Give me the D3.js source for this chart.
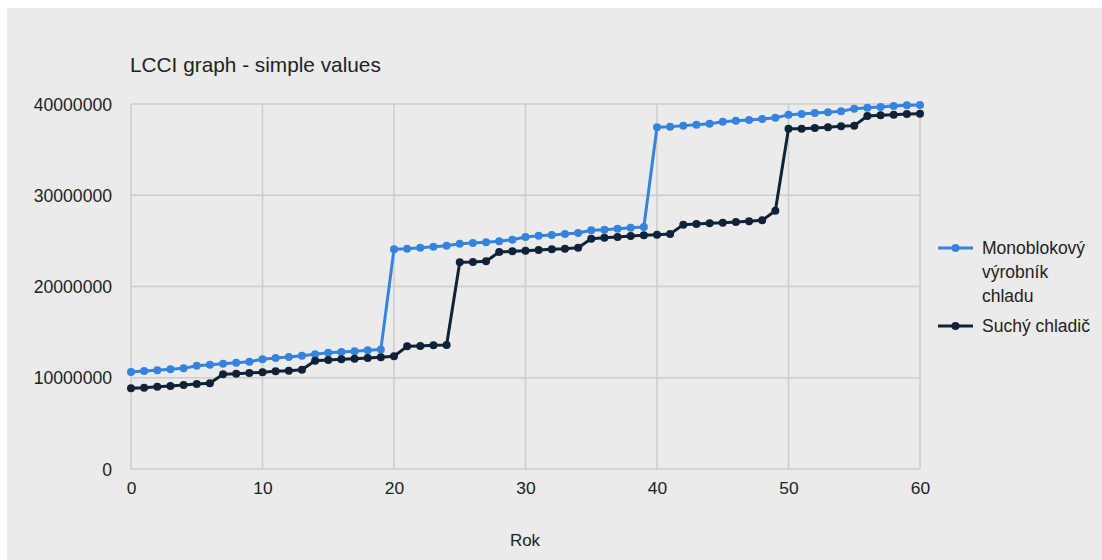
<!DOCTYPE html>
<html>
<head>
<meta charset="utf-8">
<script src="https://cdn.jsdelivr.net/npm/d3@7"></script>
<style>
  html, body { margin: 0; padding: 0; background: #ffffff; }
  svg { display: block; font-family: "Liberation Sans", Arial, sans-serif; }
</style>
</head>
<body>
<svg id="chart" width="1102" height="560"></svg>
<script>
// Years 0..60
const years = d3.range(0, 61);

// Monoblokový výrobník chladu (Kč)
const monoblok = [
  10.63, 10.74, 10.82, 10.93, 11.03, 11.32, 11.43, 11.54, 11.65, 11.76,
  12.03, 12.16, 12.27, 12.42, 12.57, 12.74, 12.82, 12.90, 13.01, 13.09,
  24.07, 24.14, 24.25, 24.36, 24.47, 24.69, 24.77, 24.84, 24.95, 25.13,
  25.42, 25.57, 25.64, 25.75, 25.86, 26.16, 26.23, 26.34, 26.45, 26.52,
  37.45, 37.52, 37.63, 37.73, 37.84, 38.06, 38.17, 38.25, 38.36, 38.50,
  38.81, 38.90, 39.01, 39.09, 39.20, 39.49, 39.60, 39.67, 39.78, 39.85,
  39.89
].map(v => v * 1e6);

// Suchý chladič (Kč)
const suchy = [
  8.84, 8.91, 9.02, 9.10, 9.21, 9.32, 9.39, 10.38, 10.45, 10.52,
  10.61, 10.70, 10.78, 10.88, 11.87, 11.95, 12.02, 12.09, 12.16, 12.25,
  12.36, 13.44, 13.48, 13.55, 13.59, 22.65, 22.68, 22.76, 23.78, 23.85,
  23.92, 24.00, 24.07, 24.14, 24.25, 25.24, 25.35, 25.42, 25.53, 25.61,
  25.68, 25.75, 26.78, 26.85, 26.92, 26.99, 27.07, 27.14, 27.25, 28.31,
  37.30, 37.30, 37.37, 37.44, 37.55, 37.63, 38.68, 38.76, 38.83, 38.90,
  38.94
].map(v => v * 1e6);

const xTicks = [0, 10, 20, 30, 40, 50, 60];
const yTicks = [0, 10000000, 20000000, 30000000, 40000000];

const seriesNames = ["Monoblokový výrobník chladu", "Suchý chladič"];
const legendLines = [["Monoblokový", "výrobník", "chladu"], ["Suchý chladič"]];
const colors = ["#3583dd", "#0f2238"];

const svg = d3.select("#chart");

// Chart frame
svg.append("rect")
  .attr("x", 7).attr("y", 8)
  .attr("width", 1095).attr("height", 552)
  .attr("fill", "#ebebeb");

const plot = { left: 131, right: 920, top: 104, bottom: 469 };

const x = d3.scaleLinear().domain([0, 60]).range([plot.left, plot.right]);
const y = d3.scaleLinear().domain([0, 40000000]).range([plot.bottom, plot.top]);

// Gridlines
const grid = svg.append("g").attr("stroke", "#cccccc").attr("stroke-width", 1.5);
grid.selectAll("line.v").data(xTicks).join("line")
  .attr("x1", d => x(d)).attr("x2", d => x(d))
  .attr("y1", plot.top).attr("y2", plot.bottom);
grid.selectAll("line.h").data(yTicks).join("line")
  .attr("x1", plot.left).attr("x2", plot.right)
  .attr("y1", d => y(d)).attr("y2", d => y(d));

// Axes (labels only)
const yAxis = svg.append("g")
  .attr("transform", `translate(${plot.left - 19},0)`)
  .call(d3.axisLeft(y).tickValues(yTicks).tickSize(0).tickPadding(0).tickFormat(d3.format("d")));
yAxis.select(".domain").remove();
yAxis.selectAll("text")
  .attr("font-size", 17.6).attr("fill", "#222").attr("dy", "0.35em")
  .style("font-family", "'Liberation Sans', Arial, sans-serif");

const xAxis = svg.append("g")
  .attr("transform", `translate(0,${plot.bottom + 13})`)
  .call(d3.axisBottom(x).tickValues(xTicks).tickSize(0).tickPadding(0).tickFormat(d3.format("d")));
xAxis.select(".domain").remove();
xAxis.selectAll("text")
  .attr("font-size", 17.4).attr("fill", "#222").attr("dy", "0.71em")
  .style("font-family", "'Liberation Sans', Arial, sans-serif");

// Title and axis caption
svg.append("text")
  .attr("x", 130).attr("y", 72)
  .attr("font-size", 20.8).attr("fill", "#222")
  .text("LCCI graph - simple values");

svg.append("text")
  .attr("x", 525).attr("y", 546)
  .attr("text-anchor", "middle")
  .attr("font-size", 17).attr("fill", "#222")
  .text("Rok");

// Series
const data = [monoblok, suchy];
const line = d3.line().x((d, i) => x(years[i])).y(d => y(d));

data.forEach((vals, s) => {
  const g = svg.append("g");
  g.append("path")
    .datum(vals)
    .attr("fill", "none")
    .attr("stroke", colors[s])
    .attr("stroke-width", 3)
    .attr("stroke-linejoin", "round")
    .attr("d", line);
  g.selectAll("circle").data(vals).join("circle")
    .attr("cx", (d, i) => x(years[i]))
    .attr("cy", d => y(d))
    .attr("r", 4)
    .attr("fill", colors[s]);
});

// Legend
const legend = svg.append("g");
const legendY = [248, 326];
legendLines.forEach((lines, s) => {
  const ly = legendY[s];
  legend.append("line")
    .attr("x1", 938).attr("x2", 973)
    .attr("y1", ly).attr("y2", ly)
    .attr("stroke", colors[s]).attr("stroke-width", 3);
  legend.append("circle")
    .attr("cx", 955.5).attr("cy", ly).attr("r", 4)
    .attr("fill", colors[s]);
  const t = legend.append("text")
    .attr("x", 982).attr("y", ly)
    .attr("font-size", 17.5).attr("fill", "#222");
  lines.forEach((ln, k) => {
    t.append("tspan")
      .attr("x", 982)
      .attr("dy", k === 0 ? "0.35em" : 24)
      .text(ln);
  });
});
</script>
</body>
</html>
